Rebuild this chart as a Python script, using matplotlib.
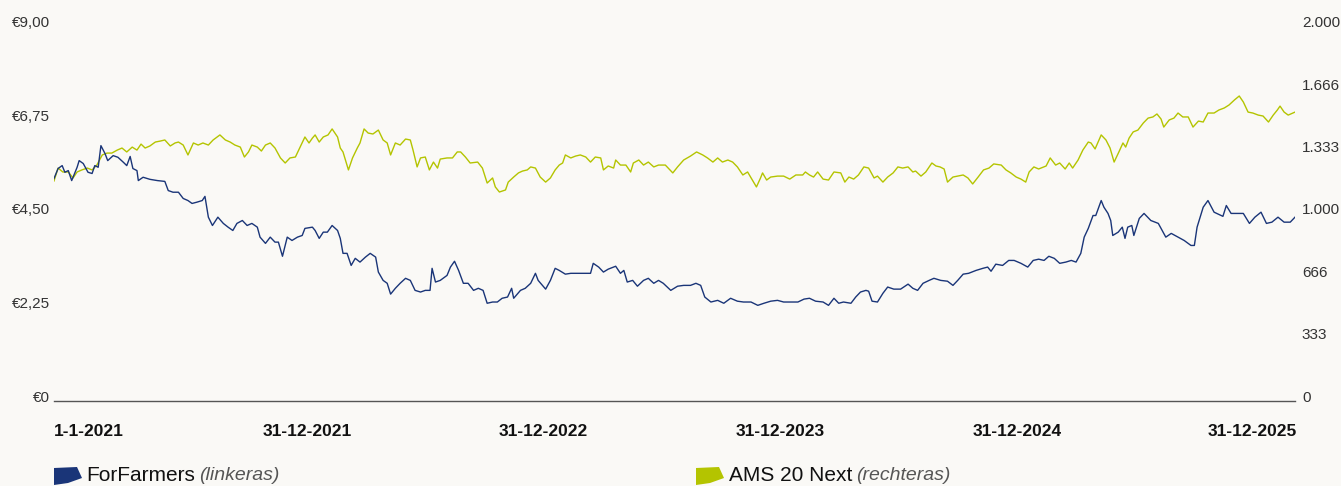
import matplotlib
matplotlib.use("Agg")
import matplotlib.pyplot as plt
from matplotlib.patches import Polygon
import numpy as np
import pandas as pd

# ---------------- data ----------------
start_date = "2021-01-01"

ff_days = [0, 6, 12, 16, 21, 26, 34, 37, 43, 50, 56, 60, 65, 69, 75, 79, 87, 94, 102, 107,
           112, 116, 122, 124, 131, 141, 152, 163, 168, 175, 183, 190, 197, 203, 210, 218, 222, 227, 233, 241,
           249, 256, 263, 269, 277, 284, 291, 299, 303, 311, 318, 325, 330, 336, 343, 350, 358, 365, 369, 380,
           384, 390, 396, 402, 409, 417, 421, 425, 431, 437, 443, 450, 458, 465, 473, 477, 484, 490, 495, 502,
           509, 517, 524, 531, 539, 546, 553, 556, 561, 568, 578, 583, 589, 595, 602, 609, 617, 624, 631, 637,
           645, 652, 659, 667, 673, 676, 686, 693, 701, 708, 712, 723, 730, 737, 743, 752, 760, 770, 779, 789,
           793, 801, 808, 815, 826, 833, 838, 843, 851, 858, 867, 874, 882, 889, 896, 907, 917, 926, 936, 944,
           951, 957, 966, 976, 985, 995, 1005, 1014, 1025, 1035, 1044, 1054, 1064, 1073, 1083, 1094, 1103, 1111, 1120, 1131,
           1139, 1147, 1154, 1161, 1172, 1179, 1186, 1194, 1198, 1203, 1211, 1219, 1226, 1235, 1245, 1256, 1263, 1270, 1278, 1287,
           1294, 1304, 1314, 1322, 1329, 1337, 1345, 1356, 1366, 1373, 1378, 1385, 1395, 1404, 1412, 1422, 1432, 1440, 1448, 1456,
           1463, 1471, 1479, 1488, 1496, 1503, 1510, 1515, 1521, 1528, 1532, 1540, 1544, 1550, 1554, 1557, 1565, 1571, 1575, 1579,
           1585, 1588, 1596, 1603, 1613, 1624, 1635, 1643, 1653, 1662, 1672, 1677, 1681, 1690, 1697, 1706, 1719, 1724, 1731, 1741,
           1749, 1758, 1766, 1775, 1783, 1791, 1800, 1809, 1818, 1825]
ff_price = [5.23, 5.47, 5.54, 5.38, 5.42, 5.18, 5.50, 5.66, 5.59, 5.38, 5.35, 5.54, 5.50, 6.02, 5.83, 5.66, 5.78, 5.74, 5.62, 5.54,
            5.76, 5.47, 5.42, 5.18, 5.26, 5.21, 5.18, 5.16, 4.94, 4.90, 4.90, 4.75, 4.70, 4.63, 4.66, 4.70, 4.80, 4.30, 4.10, 4.30,
            4.15, 4.06, 3.98, 4.15, 4.22, 4.10, 4.15, 4.06, 3.82, 3.67, 3.82, 3.70, 3.70, 3.36, 3.82, 3.74, 3.82, 3.86, 4.03, 4.06,
            3.98, 3.79, 3.94, 3.94, 4.10, 3.98, 3.79, 3.43, 3.43, 3.14, 3.31, 3.22, 3.34, 3.43, 3.34, 2.98, 2.78, 2.71, 2.45, 2.59,
            2.71, 2.83, 2.78, 2.54, 2.50, 2.54, 2.54, 3.07, 2.74, 2.78, 2.90, 3.10, 3.24, 3.02, 2.71, 2.71, 2.54, 2.59, 2.54, 2.23,
            2.26, 2.26, 2.35, 2.38, 2.59, 2.35, 2.54, 2.59, 2.71, 2.95, 2.78, 2.57, 2.78, 3.07, 3.02, 2.93, 2.95, 2.95, 2.95, 2.95,
            3.19, 3.10, 2.98, 3.05, 3.12, 2.95, 3.02, 2.74, 2.78, 2.64, 2.78, 2.83, 2.71, 2.78, 2.71, 2.54, 2.64, 2.66, 2.66, 2.71,
            2.66, 2.38, 2.26, 2.30, 2.23, 2.35, 2.28, 2.26, 2.26, 2.18, 2.23, 2.28, 2.30, 2.26, 2.26, 2.26, 2.33, 2.35, 2.28, 2.26,
            2.18, 2.35, 2.23, 2.26, 2.23, 2.38, 2.50, 2.54, 2.52, 2.28, 2.26, 2.47, 2.62, 2.57, 2.57, 2.69, 2.59, 2.54, 2.71, 2.78,
            2.83, 2.78, 2.76, 2.66, 2.78, 2.93, 2.95, 3.02, 3.07, 3.10, 3.00, 3.17, 3.14, 3.26, 3.26, 3.19, 3.10, 3.26, 3.29, 3.26,
            3.36, 3.31, 3.19, 3.22, 3.26, 3.22, 3.43, 3.82, 4.03, 4.34, 4.34, 4.70, 4.54, 4.39, 4.22, 3.86, 3.94, 4.06, 3.79, 4.06,
            4.10, 3.86, 4.27, 4.39, 4.22, 4.15, 3.82, 3.91, 3.82, 3.74, 3.62, 3.62, 4.06, 4.54, 4.70, 4.42, 4.32, 4.58, 4.39, 4.39,
            4.39, 4.15, 4.30, 4.42, 4.15, 4.18, 4.30, 4.18, 4.18, 4.30]

ams_days = [0, 6, 13, 21, 28, 34, 41, 49, 56, 63, 71, 78, 85, 93, 100, 107, 115, 122, 128, 134,
            141, 149, 156, 163, 171, 178, 183, 190, 197, 205, 212, 219, 227, 234, 244, 252, 259, 266, 274, 280,
            286, 291, 299, 305, 311, 318, 325, 333, 340, 347, 355, 362, 369, 375, 380, 384, 390, 396, 403, 409,
            417, 421, 425, 433, 439, 446, 450, 456, 462, 469, 477, 484, 490, 495, 502, 509, 517, 524, 528, 534,
            539, 546, 552, 558, 564, 568, 578, 586, 593, 598, 605, 612, 623, 630, 637, 645, 649, 655, 664, 668,
            676, 683, 689, 696, 701, 708, 715, 723, 730, 737, 743, 748, 752, 760, 767, 774, 782, 789, 796, 804,
            808, 815, 823, 826, 833, 841, 848, 852, 860, 867, 874, 882, 889, 899, 910, 917, 926, 936, 945, 954,
            961, 969, 976, 983, 991, 998, 1005, 1013, 1020, 1027, 1033, 1039, 1042, 1048, 1054, 1064, 1073, 1082, 1091, 1101,
            1105, 1111, 1117, 1123, 1131, 1139, 1147, 1157, 1163, 1169, 1176, 1183, 1191, 1198, 1206, 1211, 1219, 1226, 1234, 1241,
            1248, 1256, 1263, 1267, 1275, 1282, 1291, 1297, 1303, 1309, 1314, 1322, 1329, 1337, 1344, 1351, 1359, 1367, 1375, 1382,
            1393, 1400, 1407, 1415, 1422, 1429, 1434, 1441, 1448, 1459, 1465, 1473, 1479, 1487, 1493, 1498, 1506, 1513, 1521, 1525,
            1531, 1540, 1547, 1553, 1559, 1566, 1572, 1576, 1581, 1587, 1594, 1602, 1609, 1616, 1622, 1628, 1632, 1640, 1647, 1653,
            1660, 1668, 1675, 1683, 1690, 1697, 1706, 1713, 1721, 1728, 1736, 1743, 1749, 1756, 1763, 1771, 1778, 1786, 1793, 1799,
            1803, 1809, 1815, 1822, 1825]
ams_index = [1149, 1218, 1197, 1197, 1165, 1197, 1208, 1218, 1208, 1234, 1288, 1298, 1298, 1314, 1325, 1304, 1330, 1314, 1346, 1325,
             1336, 1357, 1362, 1368, 1336, 1352, 1357, 1341, 1288, 1352, 1341, 1352, 1341, 1368, 1395, 1368, 1357, 1341, 1330, 1277,
             1304, 1341, 1330, 1309, 1341, 1352, 1325, 1272, 1245, 1272, 1277, 1330, 1384, 1352, 1378, 1395, 1357, 1384, 1395, 1427,
             1384, 1325, 1304, 1208, 1272, 1325, 1352, 1427, 1405, 1400, 1421, 1368, 1352, 1288, 1352, 1341, 1373, 1368, 1314, 1224,
             1272, 1277, 1208, 1250, 1218, 1266, 1272, 1272, 1304, 1304, 1277, 1245, 1250, 1218, 1138, 1165, 1117, 1090, 1101, 1143,
             1170, 1192, 1202, 1208, 1224, 1218, 1170, 1143, 1165, 1208, 1234, 1245, 1288, 1272, 1282, 1288, 1277, 1250, 1277, 1272,
             1208, 1229, 1218, 1261, 1234, 1234, 1197, 1245, 1261, 1234, 1250, 1224, 1234, 1234, 1192, 1224, 1261, 1282, 1304, 1288,
             1272, 1250, 1272, 1250, 1261, 1250, 1224, 1181, 1197, 1154, 1117, 1165, 1192, 1154, 1170, 1175, 1175, 1159, 1181, 1181,
             1197, 1181, 1170, 1197, 1159, 1154, 1197, 1192, 1143, 1170, 1159, 1181, 1224, 1218, 1165, 1175, 1143, 1170, 1192, 1224,
             1218, 1224, 1197, 1202, 1175, 1197, 1245, 1229, 1224, 1213, 1143, 1170, 1175, 1181, 1165, 1133, 1170, 1208, 1218, 1240,
             1234, 1208, 1192, 1170, 1159, 1143, 1197, 1224, 1213, 1229, 1272, 1234, 1245, 1213, 1245, 1218, 1261, 1314, 1357, 1352,
             1320, 1395, 1368, 1325, 1250, 1304, 1352, 1330, 1378, 1411, 1421, 1459, 1485, 1491, 1507, 1480, 1437, 1475, 1485, 1512,
             1491, 1491, 1437, 1469, 1464, 1512, 1512, 1528, 1539, 1555, 1582, 1603, 1571, 1517, 1512, 1501, 1496, 1464, 1501, 1528,
             1549, 1517, 1501, 1512, 1517]

left_ticks = [0, 2.25, 4.50, 6.75, 9.00]
left_labels = ["€0", "€2,25", "€4,50", "€6,75", "€9,00"]
right_ticks = [0, 333.33, 666.67, 1000, 1333.33, 1666.67, 2000]
right_labels = ["0", "333", "666", "1.000", "1.333", "1.666", "2.000"]
x_labels = ["1-1-2021", "31-12-2021", "31-12-2022", "31-12-2023", "31-12-2024", "31-12-2025"]
series_names = ["ForFarmers", "AMS 20 Next"]
axis_notes = ["(linkeras)", "(rechteras)"]

# ---------------- style ----------------
BG = "#faf9f6"
BLUE = "#1a3578"
GREEN = "#b4c400"
TXT = "#333333"
FONT = ["Liberation Sans", "DejaVu Sans"]

ff_dates = pd.Timestamp(start_date) + pd.to_timedelta(ff_days, unit="D")
ams_dates = pd.Timestamp(start_date) + pd.to_timedelta(ams_days, unit="D")

W, H = 1341, 486
fig = plt.figure(figsize=(W / 100, H / 100), dpi=100, facecolor=BG)
L, R, T, B = 54, 1295, 21.7, 401
ax = fig.add_axes([L / W, 1 - B / H, (R - L) / W, (B - T) / H])
ax.set_facecolor(BG)
ax2 = ax.twinx()

ax2.plot(ams_dates, ams_index, color=GREEN, lw=1.0, zorder=2)
ax.plot(ff_dates, ff_price, color=BLUE, lw=1.0, zorder=3)
ax.set_zorder(ax2.get_zorder() + 1)
ax.patch.set_visible(False)
ax2.patch.set_facecolor(BG)

ax.set_xlim(pd.Timestamp(start_date), pd.Timestamp(start_date) + pd.Timedelta(days=1825))
ymin = -0.12
ax.set_ylim(ymin, 9.0)
ax2.set_ylim(ymin * 2000 / 9.0, 2000)

for a in (ax, ax2):
    for s in ("top", "left", "right", "bottom"):
        a.spines[s].set_visible(False)
ax.spines["bottom"].set_visible(True)
ax.spines["bottom"].set_color("#555555")
ax.spines["bottom"].set_linewidth(1.0)

ax.set_yticks(left_ticks)
ax.set_yticklabels(left_labels, fontfamily=FONT, fontsize=11, color=TXT)
ax.tick_params(axis="y", length=0, pad=3)
ax2.set_yticks(right_ticks)
ax2.set_yticklabels(right_labels, fontfamily=FONT, fontsize=11, color=TXT)
ax2.tick_params(axis="y", length=0, pad=5)
ax.set_xticks([])
ax2.set_xticks([])

# x labels (evenly spaced as in the reference)
xpos = [0.0, 0.2039, 0.394, 0.585, 0.776, 1.0016]
has = ["left", "center", "center", "center", "center", "right"]
for xp, lab, ha in zip(xpos, x_labels, has):
    ax.text(xp, -(432 - B) / (B - T), lab, transform=ax.transAxes, ha=ha, va="center",
            fontfamily=FONT, fontsize=12.5, fontweight="bold", color="#111111")

# legend
def patch(x0, color):
    pts = [(x0, 468), (x0 + 23, 467), (x0 + 28, 478), (x0 + 14, 483), (x0, 485)]
    poly = Polygon([(px / W, 1 - py / H) for px, py in pts], closed=True,
                   transform=fig.transFigure, facecolor=color, edgecolor="none")
    fig.patches.append(poly)

ly = 1 - 475.5 / H
renderer = fig.canvas.get_renderer()
for x0, x_text, name, note, col in [(54, 86, series_names[0], axis_notes[0], BLUE),
                                     (696, 729, series_names[1], axis_notes[1], GREEN)]:
    patch(x0, col)
    t = fig.text(x_text / W, ly, name, ha="left", va="center", fontfamily=FONT,
                 fontsize=15, color="#111111")
    bb = t.get_window_extent(renderer)
    fig.text((bb.x1 + 4) / W, ly, note, ha="left", va="center", fontfamily=FONT,
             fontsize=14, style="italic", color="#555555")

fig.savefig("out.png", dpi=100, facecolor=BG)
